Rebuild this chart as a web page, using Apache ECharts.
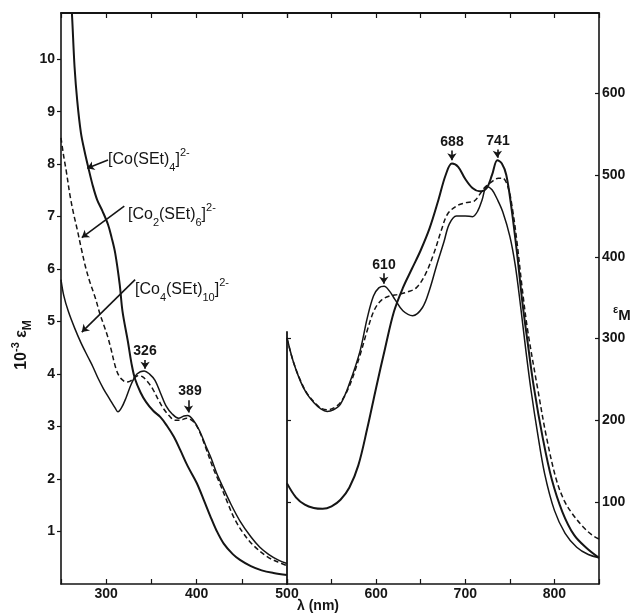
<!DOCTYPE html>
<html lang="en">
<head>
    <meta charset="UTF-8">
    <title>Co thiolate spectra</title>
    <script src="https://cdn.jsdelivr.net/npm/echarts@6/dist/echarts.min.js"></script>
    <style>
        html, body { margin: 0; padding: 0; background: #fff; }
        #chart { width: 638px; height: 613px; }
    </style>
</head>
<body>
<div id="chart"></div>
<script type="text/javascript">
    // UV panel (250-500 nm), values in 10^-3 eps_M
    const monoUvNm  = [258, 262, 265, 268, 272, 276, 280, 285, 290, 296, 302, 306, 310, 315, 318, 324, 328, 332, 338, 344, 352, 360, 367, 375, 382, 390, 400, 408, 415, 422, 430, 440, 448, 460, 472, 485, 500];
    const monoUvEps = [12.0, 10.9, 9.85, 9.2, 8.6, 8.25, 7.95, 7.6, 7.32, 7.1, 6.85, 6.6, 6.3, 5.7, 5.2, 4.62, 4.2, 3.9, 3.65, 3.47, 3.3, 3.18, 3.02, 2.8, 2.55, 2.25, 1.93, 1.6, 1.3, 1.02, 0.77, 0.57, 0.46, 0.34, 0.26, 0.21, 0.17];

    const dimerUvNm  = [250, 253, 256, 260, 264, 268, 273, 277, 282, 288, 293, 297, 301, 305, 310, 314, 318, 322, 326, 330, 335, 340, 346, 352, 358, 363, 370, 376, 382, 389, 396, 402, 410, 418, 426, 434, 442, 452, 462, 478, 490, 500];
    const dimerUvEps = [8.5, 8.15, 7.85, 7.4, 7.05, 6.75, 6.35, 6.05, 5.75, 5.45, 5.15, 4.95, 4.75, 4.5, 4.15, 3.97, 3.89, 3.85, 3.86, 3.91, 3.97, 3.95, 3.85, 3.7, 3.5, 3.35, 3.2, 3.12, 3.12, 3.16, 3.1, 2.95, 2.6, 2.22, 1.9, 1.56, 1.24, 0.96, 0.75, 0.52, 0.42, 0.35];

    const tetraUvNm  = [250, 253, 258, 265, 272, 280, 285, 291, 297, 304, 310, 313, 317, 322, 328, 334, 342, 348, 354, 360, 366, 373, 380, 386, 390, 396, 403, 410, 416, 422, 429, 438, 448, 460, 470, 480, 490, 500];
    const tetraUvEps = [5.8, 5.5, 5.2, 4.88, 4.6, 4.32, 4.15, 3.92, 3.72, 3.52, 3.35, 3.28, 3.36, 3.55, 3.82, 4.0, 4.06, 4.0, 3.88, 3.64, 3.4, 3.24, 3.16, 3.2, 3.21, 3.13, 2.93, 2.64, 2.4, 2.12, 1.85, 1.52, 1.2, 0.9, 0.7, 0.56, 0.46, 0.39];

    // visible panel (500-850 nm), values in eps_M
    const monoVisNm  = [500, 510, 520, 530, 540, 550, 560, 570, 580, 590, 600, 610, 620, 630, 640, 650, 660, 670, 678, 685, 692, 700, 708, 716, 724, 730, 736, 741, 746, 752, 758, 764, 770, 777, 787, 797, 809, 822, 836, 850];
    const monoVisEps = [123, 106, 97, 93, 92, 95, 103, 118, 145, 190, 240, 288, 333, 362, 385, 408, 435, 470, 500, 514, 510, 495, 484, 480, 484, 500, 518, 514, 500, 458, 405, 345, 295, 240, 178, 128, 88, 60, 44, 32];

    const dimerVisNm  = [500, 507, 515, 522, 530, 538, 545, 552, 560, 570, 582, 590, 598, 606, 615, 625, 635, 645, 655, 665, 673, 680, 690, 700, 710, 716, 722, 730, 737, 742, 748, 753, 758, 764, 770, 781, 791, 802, 811, 820, 832, 842, 850];
    const dimerVisEps = [300, 272, 249, 234, 223, 215, 213, 215, 222, 242, 280, 310, 335, 347, 352, 354, 357, 362, 378, 405, 432, 452, 462, 466, 468, 476, 485, 492, 496, 496, 485, 458, 418, 360, 310, 240, 180, 128, 102, 86, 70, 60, 55];

    const tetraVisNm  = [500, 507, 515, 522, 530, 538, 545, 552, 560, 570, 582, 590, 597, 603, 609, 615, 621, 630, 641, 652, 660, 668, 676, 682, 690, 700, 708, 714, 719, 724, 730, 736, 742, 750, 756, 762, 768, 774, 781, 789, 800, 812, 825, 838, 850];
    const tetraVisEps = [301, 272, 248, 233, 222, 214, 211, 213, 220, 245, 285, 325, 352, 362, 364, 358, 348, 334, 328, 338, 360, 390, 418, 440, 450, 450, 449, 456, 470, 486, 482, 470, 455, 425, 390, 340, 285, 235, 185, 135, 90, 62, 45, 36, 32];

    const uvTicks = [1, 2, 3, 4, 5, 6, 7, 8, 9, 10];
    const visTicks = [100, 200, 300, 400, 500, 600];
    const midTicks = [100, 200, 300];

    const pairs = (xs, ys) => xs.map((x, i) => [x, ys[i]]);

    const INK = '#151515';
    const FONT = 'Liberation Sans';

    function arrow(a, b) {
        return [{coord: a}, {coord: b}];
    }

    function curve(name, xi, xs, ys, width, dash, arrows) {
        return {
            name: name,
            type: 'line',
            xAxisIndex: xi,
            yAxisIndex: xi === 0 ? 0 : 1,
            data: pairs(xs, ys),
            smooth: 0.35,
            symbol: 'none',
            lineStyle: {color: INK, width: width, type: dash},
            emphasis: {disabled: true},
            markLine: arrows ? {
                silent: true,
                symbol: ['none', 'arrow'],
                symbolSize: 7,
                label: {show: false},
                lineStyle: {color: INK, width: 1.6, type: 'solid'},
                data: arrows
            } : undefined
        };
    }

    // formula label: parts is a list of [text, kind] with kind b / s (sub) / p (sup)
    function chem(x, y, parts) {
        return {
            type: 'text', x: x, y: y,
            style: {
                text: parts.map(p => '{' + p[1] + '|' + p[0] + '}').join(''),
                fill: INK,
                textVerticalAlign: 'middle',
                rich: {
                    b: {fontSize: 16, fontFamily: FONT, fill: INK, lineHeight: 26, verticalAlign: 'middle'},
                    s: {fontSize: 11, fontFamily: FONT, fill: INK, lineHeight: 26, verticalAlign: 'bottom'},
                    p: {fontSize: 11, fontFamily: FONT, fill: INK, lineHeight: 26, verticalAlign: 'top'}
                }
            }
        };
    }

    function peak(x, y, txt) {
        return {
            type: 'text', x: x, y: y,
            style: {text: txt, fill: INK, font: 'bold 14px ' + FONT, textAlign: 'center', textVerticalAlign: 'middle'}
        };
    }

    const chart = echarts.init(document.getElementById('chart'), null, {renderer: 'canvas'});

    const tickLabel = {color: INK, fontFamily: FONT, fontSize: 14, fontWeight: 'bold'};

    function xAxisFor(grid, pos, min, max, labels) {
        return {
            type: 'value', gridIndex: grid, position: pos, min: min, max: max, interval: 50,
            axisLine: {lineStyle: {color: INK, width: pos === 'top' ? 1.8 : 1.6}},
            axisTick: {inside: true, length: 5, lineStyle: {color: INK, width: 1.2}},
            splitLine: {show: false},
            axisLabel: labels ? Object.assign({margin: 3, customValues: labels}, tickLabel) : {show: false}
        };
    }

    const option = {
        backgroundColor: '#fff',
        animation: false,
        grid: [
            {left: 61, top: 13, width: 226, bottom: 29},
            {left: 287, top: 13, width: 312, bottom: 29},
            {left: 287, top: 332, width: 1, bottom: 29}
        ],
        xAxis: [
            xAxisFor(0, 'bottom', 250, 500, [300, 400, 500]),
            xAxisFor(1, 'bottom', 500, 850, [600, 700, 800]),
            xAxisFor(0, 'top', 250, 500, null),
            xAxisFor(1, 'top', 500, 850, null),
            {type: 'value', gridIndex: 2, min: 0, max: 1, show: false}
        ],
        yAxis: [
            {
                type: 'value', gridIndex: 0, position: 'left', min: 0, max: 10.88, interval: 1,
                axisLine: {show: true, lineStyle: {color: INK, width: 1.6}},
                axisTick: {show: true, inside: false, length: 4, customValues: uvTicks, lineStyle: {color: INK, width: 1.2}},
                splitLine: {show: false},
                axisLabel: Object.assign({margin: 6, customValues: uvTicks}, tickLabel)
            },
            {
                type: 'value', gridIndex: 1, position: 'right', min: 0, max: 698, interval: 100,
                axisLine: {show: true, lineStyle: {color: INK, width: 1.6}},
                axisTick: {show: true, inside: true, length: 4, customValues: visTicks, lineStyle: {color: INK, width: 1.2}},
                splitLine: {show: false},
                axisLabel: Object.assign({margin: 3, customValues: visTicks}, tickLabel)
            },
            {
                type: 'value', gridIndex: 2, position: 'left', min: 0, max: 308, interval: 100,
                axisLine: {show: true, lineStyle: {color: INK, width: 1.8}},
                axisTick: {show: true, inside: true, length: 4, customValues: midTicks, lineStyle: {color: INK, width: 1.2}},
                splitLine: {show: false},
                axisLabel: {show: false}
            }
        ],
        series: [
            curve('[Co(SEt)4]2-', 0, monoUvNm, monoUvEps, 2, 'solid', [
                arrow([302, 8.08], [279, 7.92]),
                arrow([343, 4.27], [343, 4.1]),
                arrow([391, 3.5], [391, 3.27])
            ]),
            curve('[Co2(SEt)6]2-', 0, dimerUvNm, dimerUvEps, 1.5, [5, 3], [
                arrow([320, 7.2], [273, 6.6])
            ]),
            curve('[Co4(SEt)10]2-', 0, tetraUvNm, tetraUvEps, 1.5, 'solid', [
                arrow([332, 5.8], [273, 4.8])
            ]),
            curve('[Co(SEt)4]2- vis', 1, monoVisNm, monoVisEps, 2, 'solid', [
                arrow([608.6, 380], [608.6, 367]),
                arrow([685, 530], [685, 518]),
                arrow([736, 531], [736, 521])
            ]),
            curve('[Co2(SEt)6]2- vis', 1, dimerVisNm, dimerVisEps, 1.5, [5, 3]),
            curve('[Co4(SEt)10]2- vis', 1, tetraVisNm, tetraVisEps, 1.5, 'solid')
        ],
        graphic: [
            chem(108, 160, [['[Co(SEt)', 'b'], ['4', 's'], [']', 'b'], ['2-', 'p']]),
            chem(128, 215, [['[Co', 'b'], ['2', 's'], ['(SEt)', 'b'], ['6', 's'], [']', 'b'], ['2-', 'p']]),
            chem(135, 290, [['[Co', 'b'], ['4', 's'], ['(SEt)', 'b'], ['10', 's'], [']', 'b'], ['2-', 'p']]),
            peak(145, 351, '326'),
            peak(190, 391, '389'),
            peak(384, 265, '610'),
            peak(452, 142, '688'),
            peak(498, 141, '741'),
            {
                type: 'text', x: 318, y: 606,
                style: {text: 'λ (nm)', fill: INK, font: 'bold 14px ' + FONT, textAlign: 'center', textVerticalAlign: 'middle'}
            },
            {
                type: 'text', x: 22, y: 345, rotation: Math.PI / 2,
                style: {
                    text: '{b|10}{p|-3}{b| ε}{s|M}',
                    textAlign: 'center', textVerticalAlign: 'middle',
                    rich: {
                        b: {fontSize: 16, fontFamily: FONT, fill: INK, fontWeight: 'bold', lineHeight: 24, verticalAlign: 'middle'},
                        p: {fontSize: 11, fontFamily: FONT, fill: INK, fontWeight: 'bold', lineHeight: 24, verticalAlign: 'top'},
                        s: {fontSize: 12, fontFamily: FONT, fill: INK, fontWeight: 'bold', lineHeight: 24, verticalAlign: 'bottom'}
                    }
                }
            },
            {
                type: 'text', x: 613, y: 316,
                style: {
                    text: '{p|ε}{b|M}',
                    textVerticalAlign: 'middle',
                    rich: {
                        p: {fontSize: 11, fontFamily: FONT, fill: INK, fontWeight: 'bold', lineHeight: 24, verticalAlign: 'top'},
                        b: {fontSize: 15, fontFamily: FONT, fill: INK, fontWeight: 'bold', lineHeight: 24, verticalAlign: 'middle'}
                    }
                }
            }
        ]
    };

    chart.setOption(option);
</script>
</body>
</html>
